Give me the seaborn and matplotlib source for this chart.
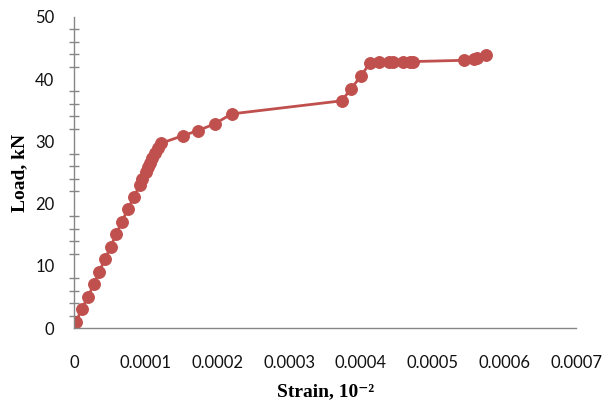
import matplotlib
matplotlib.use("Agg")
import matplotlib.pyplot as plt
import seaborn as sns
import pandas as pd
from matplotlib.ticker import MultipleLocator

# strain readings (10^-2) and matching load (kN)
strain = [
    0.0000024, 0.0000103, 0.0000191, 0.0000271, 0.0000344, 0.0000428,
    0.0000508, 0.0000582, 0.0000661, 0.0000745, 0.0000833, 0.0000912,
    0.0000948, 0.0000996, 0.0001024, 0.0001056, 0.0001084, 0.0001126,
    0.0001163, 0.0001213, 0.0001512, 0.0001721, 0.0001958, 0.0002195,
    0.000373, 0.000386, 0.000400, 0.000412, 0.000425, 0.000439,
    0.000445, 0.000459, 0.000468, 0.000473, 0.000544, 0.000557,
    0.000562, 0.000574,
]
load = [
    1.0, 3.1, 5.0, 7.1, 9.0, 11.1,
    13.1, 15.1, 17.0, 19.1, 21.0, 23.0,
    24.0, 25.1, 25.9, 26.6, 27.4, 28.2,
    28.9, 29.7, 30.9, 31.7, 32.8, 34.4,
    36.5, 38.4, 40.5, 42.5, 42.7, 42.8,
    42.8, 42.8, 42.8, 42.8, 43.0, 43.2,
    43.4, 43.9,
]
x_ticks = [0, 0.0001, 0.0002, 0.0003, 0.0004, 0.0005, 0.0006, 0.0007]
x_tick_labels = ["0", "0.0001", "0.0002", "0.0003", "0.0004", "0.0005", "0.0006", "0.0007"]

df = pd.DataFrame({"strain": strain, "load": load})

sns.set_style("white")
plt.rcParams["font.family"] = ["Lato", "DejaVu Sans"]

red = "#C0504D"
grey = "#868686"

fig = plt.figure(figsize=(6.06, 4.01), dpi=100)
ax = fig.add_axes([0.1226, 0.1813, 0.8279, 0.7771])

sns.lineplot(data=df, x="strain", y="load", sort=False, ax=ax,
             color=red, linewidth=2.0, marker="o", markersize=8.5,
             markeredgecolor=red, markerfacecolor=red)

ax.set_xlim(0, 0.0007)
ax.set_ylim(0, 50)
ax.set_xticks(x_ticks)
ax.set_xticklabels(x_tick_labels)
ax.yaxis.set_major_locator(MultipleLocator(10))
ax.yaxis.set_minor_locator(MultipleLocator(2))

for side in ["top", "right"]:
    ax.spines[side].set_visible(False)
for side in ["left", "bottom"]:
    ax.spines[side].set_color(grey)
    ax.spines[side].set_linewidth(1.0)

ax.tick_params(axis="x", which="major", direction="out", length=5, width=1.0,
               color=grey, labelsize=12, pad=14, labelcolor="#111111")
ax.tick_params(axis="y", which="major", direction="inout", length=10.5, width=1.0,
               color=grey, labelsize=12, pad=9, labelcolor="#111111")
ax.tick_params(axis="y", which="minor", direction="inout", length=7.5, width=1.0,
               color=grey, left=True)

label_font = dict(family=["Liberation Serif", "DejaVu Serif"], fontweight="bold",
                  fontsize=14, color="black")
ax.set_xlabel("Strain, 10\u207b\u00b2", labelpad=9, **label_font)
ax.set_ylabel("Load, kN", labelpad=5, **label_font)

fig.savefig("out.png", dpi=100)
